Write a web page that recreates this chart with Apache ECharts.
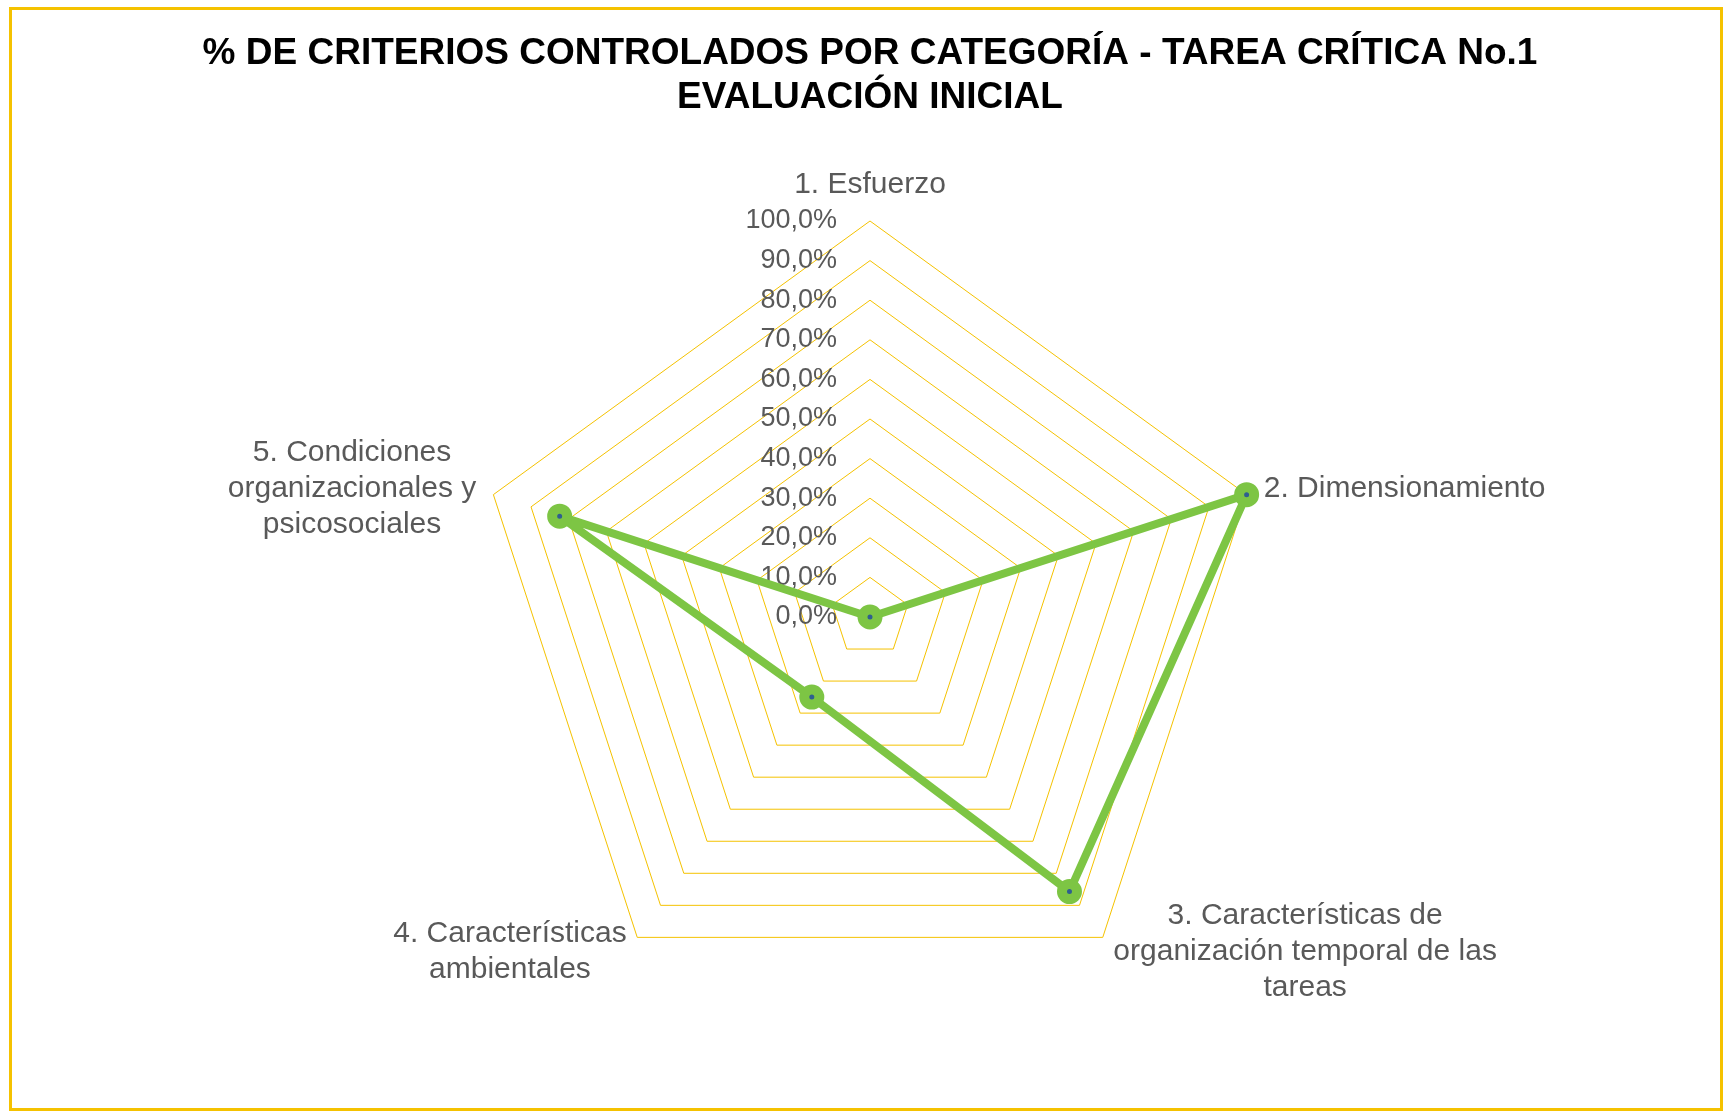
<!DOCTYPE html>
<html>
<head>
<meta charset="utf-8">
<title>% de criterios controlados por categoría</title>
<script src="https://cdn.jsdelivr.net/npm/echarts@6/dist/echarts.min.js"></script>
<style>
  html, body { margin: 0; padding: 0; background: #fff; }
  #chart { position: absolute; left: 0; top: 0; width: 1729px; height: 1114px; }
  /* marco amarillo del gráfico */
  #frame { position: absolute; left: 9px; top: 7px; width: 1708px; height: 1098px;
           border: 3px solid #F5C200; pointer-events: none; }
</style>
</head>
<body>
<div id="chart"></div>
<div id="frame"></div>
<script>
// categorías en el orden del gráfico original (sentido horario desde arriba)
const categories = [
    '1. Esfuerzo',
    '2. Dimensionamiento',
    '3. Características de\norganización temporal de las\ntareas',
    '4. Características\nambientales',
    '5. Condiciones\norganizacionales y\npsicosociales'
];
// % de criterios controlados
const values = [0, 100, 85.7, 25, 82.4];
const tickLabels = ['0,0%', '10,0%', '20,0%', '30,0%', '40,0%', '50,0%',
                    '60,0%', '70,0%', '80,0%', '90,0%', '100,0%'];

const FONT = '"Liberation Sans", Arial, sans-serif';
const GREEN = '#7DC544';

// echarts dibuja el radar en sentido antihorario, se invierte el orden
const order = [0, 4, 3, 2, 1];

const chart = echarts.init(document.getElementById('chart'));

const option = {
    backgroundColor: '#fff',
    animation: false,
    title: {
        text: '% DE CRITERIOS CONTROLADOS POR CATEGORÍA - TAREA CRÍTICA No.1\nEVALUACIÓN INICIAL',
        left: 870,
        top: 32,
        padding: 0,
        textAlign: 'center',
        textStyle: {
            fontFamily: FONT,
            fontSize: 37,
            fontWeight: 'bold',
            color: '#000',
            lineHeight: 44
        }
    },
    radar: {
        center: [870, 617],
        radius: 396,
        shape: 'polygon',
        splitNumber: 10,
        nameGap: 18,
        axisName: {
            formatter: function (name) {
                return '{n|' + name + '}';
            },
            rich: {
                n: {
                    fontFamily: FONT,
                    fontSize: 30,
                    color: '#595959',
                    lineHeight: 36,
                    align: 'center'
                }
            }
        },
        axisLine: { show: false },
        axisTick: { show: false },
        axisLabel: { show: false },
        splitArea: { show: false },
        splitLine: {
            lineStyle: { color: '#F5C200', width: 1 }
        },
        indicator: order.map(function (i, k) {
            const ind = { name: categories[i], min: 0, max: 100 };
            if (k === 0) {
                // etiquetas de escala solo en el eje vertical
                ind.axisLabel = {
                    show: true,
                    showMinLabel: true,
                    showMaxLabel: true,
                    margin: 33,
                    fontFamily: FONT,
                    fontSize: 27,
                    color: '#595959',
                    formatter: function (v) {
                        return tickLabels[Math.round(v / 10)];
                    }
                };
            }
            return ind;
        })
    },
    series: [{
        type: 'radar',
        symbol: 'circle',
        symbolSize: 15,
        itemStyle: {
            color: '#2F5F8F',
            borderColor: GREEN,
            borderWidth: 10
        },
        lineStyle: { color: GREEN, width: 8 },
        data: [{
            value: order.map(function (i) { return values[i]; }),
            name: 'Evaluación inicial'
        }]
    }]
};

chart.setOption(option);
</script>
</body>
</html>
